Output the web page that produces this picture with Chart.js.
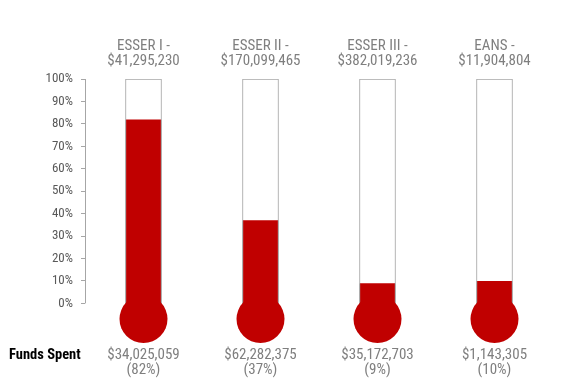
<!DOCTYPE html>
<html><head><meta charset="utf-8">
<script src="https://cdn.jsdelivr.net/npm/chart.js@4.4.1/dist/chart.umd.min.js"></script>
<style>html,body{margin:0;padding:0;background:#fff;}#wrap{width:570px;height:383px;}</style>
</head><body><div id="wrap"><canvas id="c" width="570" height="383"></canvas></div>
<script>
const categories = ['ESSER I', 'ESSER II', 'ESSER III', 'EANS'];
const allocations = ['$41,295,230', '$170,099,465', '$382,019,236', '$11,904,804'];
const spentAmounts = ['$34,025,059', '$62,282,375', '$35,172,703', '$1,143,305'];
const percentSpent = [82, 37, 9, 10];
const yTicks = [0, 10, 20, 30, 40, 50, 60, 70, 80, 90, 100];

const BULB = -7;
const RED = '#C00000';
const GRAY_TXT = '#7F7F7F';
const TICK_TXT = '#595959';
const TUBE = '#A6A6A6';
const FONT = '"Roboto Condensed", "DejaVu Sans Condensed", sans-serif';

const axisLine = {
  id: 'axisLine',
  afterDraw(chart) {
    const y = chart.scales.y, ctx = chart.ctx;
    const x = Math.round(chart.chartArea.left) + 0.5;
    ctx.save();
    ctx.strokeStyle = TUBE; ctx.lineWidth = 1;
    ctx.beginPath();
    ctx.moveTo(x, y.getPixelForValue(yTicks[yTicks.length-1]));
    ctx.lineTo(x, y.getPixelForValue(yTicks[0]));
    ctx.stroke();
    ctx.fillStyle = '#000';
    ctx.font = 'bold 14.5px ' + FONT;
    ctx.textAlign = 'left'; ctx.textBaseline = 'middle';
    ctx.fillText('Funds Spent', 9, chart.scales.x.top + 9);
    ctx.restore();
  }
};

const noSidePad = s => { s.paddingLeft = 0; s.paddingRight = 0; };

new Chart(document.getElementById('c'), {
  type: 'bar',
  data: {
    labels: categories,
    datasets: [
      { type: 'bubble', data: categories.map(c => ({x: c, y: BULB, r: 24})),
        backgroundColor: RED, borderWidth: 0, hoverRadius: 0, order: 1 },
      { data: percentSpent.map(v => [BULB, v]), backgroundColor: RED,
        borderColor: TUBE, borderWidth: {left: 1, right: 1, top: 0, bottom: 0},
        borderSkipped: false, barThickness: 36, grouped: false, order: 2 },
      { data: categories.map(() => [BULB, 100]), backgroundColor: '#fff',
        borderColor: TUBE, borderWidth: 1, borderSkipped: false,
        barThickness: 36, grouped: false, order: 3 }
    ]
  },
  options: {
    responsive: false, animation: false,
    layout: { autoPadding: false, padding: { left: 0, right: 17, top: 0, bottom: 0 } },
    plugins: { legend: { display: false }, tooltip: { enabled: false } },
    scales: {
      x: {
        position: 'bottom', offset: true,
        grid: { display: false, drawTicks: false }, border: { display: false },
        afterFit: s => { s.height = 37; noSidePad(s); },
        ticks: { padding: 1, color: GRAY_TXT, font: { family: FONT, size: 15, lineHeight: 1.05 },
          callback: (v, i) => [spentAmounts[i], '(' + percentSpent[i] + '%)'] }
      },
      xTop: {
        type: 'category', position: 'top', offset: true, labels: categories,
        grid: { display: false, drawTicks: false }, border: { display: false },
        afterFit: s => { s.height = 79; noSidePad(s); },
        ticks: { padding: 10, color: GRAY_TXT, font: { family: FONT, size: 15, lineHeight: 1.0 },
          callback: (v, i) => [categories[i] + ' -', allocations[i]] }
      },
      y: {
        min: -19, max: 100,
        afterFit: s => { s.width = 85; },
        afterBuildTicks: s => { s.ticks = yTicks.map(v => ({value: v})); },
        grid: { drawOnChartArea: false, tickLength: 4, color: TUBE },
        border: { display: false },
        ticks: { padding: 8, color: TICK_TXT, font: { family: FONT, size: 13 },
          callback: v => v + '%' }
      }
    }
  },
  plugins: [axisLine]
});
</script></body></html>
